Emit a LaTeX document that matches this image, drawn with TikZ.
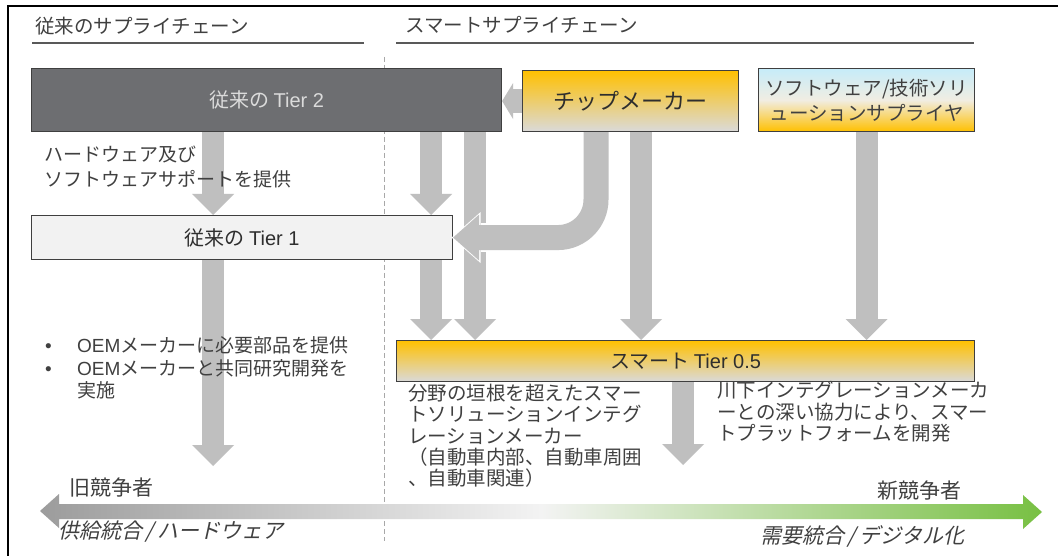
\documentclass[tikz,border=0pt]{standalone}
\usepackage{fontspec}
\setmainfont{Noto Sans CJK JP}
\newfontfamily\lat{Liberation Sans}
\newfontfamily\jpit[FakeSlant=0.22]{Noto Sans CJK JP}
\newcommand\latn[1]{{\lat #1}}
\usetikzlibrary{arrows.meta,calc}
\definecolor{txtc}{HTML}{404040}
\definecolor{txtdark}{HTML}{2E2E2E}
\definecolor{arr}{HTML}{BFBFBF}
\definecolor{tiertwo}{HTML}{6D6E71}
\definecolor{tierone}{HTML}{F2F2F2}
\definecolor{boxline}{HTML}{3F3F3F}
\definecolor{orng}{HTML}{FFC000}
\definecolor{lgray}{HTML}{DADADA}
\definecolor{lcyan}{HTML}{C6ECF9}
\definecolor{cream}{HTML}{F1EDE2}
\definecolor{grn}{HTML}{78C043}
\definecolor{dgray}{HTML}{9C9C9C}
\definecolor{barmid}{HTML}{F3F3F3}
\definecolor{dashc}{HTML}{A8A8A8}
\definecolor{ulc}{HTML}{595959}
\begin{document}
\begin{tikzpicture}[x=1pt,y=-1pt,
  txt/.style={inner sep=0pt, text=txtc, align=left, anchor=north west},
  box/.style={draw=boxline, line width=1.1pt, inner sep=0pt, anchor=north west},
  blk/.style={draw=arr, line width=22pt, -{Triangle[width=42pt,length=21pt,line width=0pt]}},
  uline/.style={draw=ulc, line width=1.2pt},
]
\useasboundingbox (0,0) rectangle (1058,556);
\fill[white] (0,0) rectangle (1058,556);
% frame
\draw[line width=1.5pt] (8,562) -- (8,6) -- (1064,6);
% dashed divider
\draw[draw=dashc, line width=0.8pt, dash pattern=on 5pt off 3pt] (384,57) -- (384,541);

% headers
\node[txt, font=\fontsize{19.5}{24}\selectfont] (h1) at (35,16.5) {従来のサプライチェーン};
\node[txt, font=\fontsize{19.5}{24}\selectfont] (h2) at (405,16.5) {スマートサプライチェーン};
\draw[uline] (32,43) -- (364,43);
\draw[uline] (396,43) -- (974,43);

% boxes
\node[box, fill=tiertwo, minimum width=470pt, minimum height=63pt, text=white!86!black,
      font=\fontsize{20}{24}\selectfont] (t2) at (31,68) {従来の \latn{Tier 2}};
\node[box, top color=orng, bottom color=lgray, minimum width=216pt, minimum height=61pt,
      text=txtdark, font=\fontsize{22}{26}\selectfont] (chip) at (522,70) {チップメーカー};
\node[box, top color=lcyan, bottom color=orng, middle color=cream, minimum width=216pt,
      minimum height=63pt, align=center, text=txtc, font=\fontsize{19.5}{25}\selectfont] (sw) at (758,68)
      {ソフトウェア/技術ソリ\\ューションサプライヤ};
\node[box, fill=tierone, minimum width=421pt, minimum height=44pt, text=txtdark,
      font=\fontsize{20}{24}\selectfont] (t1) at (31,215) {従来の \latn{Tier 1}};
\node[box, top color=orng, bottom color=lgray, minimum width=578pt, minimum height=41pt,
      text=txtdark, font=\fontsize{20}{24}\selectfont] (t05) at (396,340) {スマート \latn{Tier 0.5}};

% column coordinates
\coordinate (cA) at (213,0);
\coordinate (cC) at (431,0);
\coordinate (cE) at (475,0);
\coordinate (cF) at (596,0);
\coordinate (cG) at (641,0);
\coordinate (bEnd) at (213,466);
\coordinate (iEnd) at (683,465);

% block arrows
\draw[blk] (t2.south -| cA) -- (t1.north -| cA);
\draw[blk] (t1.south -| cA) -- (bEnd);
\draw[blk] (t2.south -| cC) -- (t1.north -| cC);
\draw[blk] (t1.south -| cC) -- (t05.north -| cC);
\draw[blk] (t2.south -| cE) -- (t05.north -| cE);
\draw[blk] (chip.south -| cG) -- (t05.north -| cG);
\draw[blk] (sw.south) -- (sw.south |- t05.north);
\draw[blk] (t05.south -| iEnd) -- (iEnd);
\draw[blk, line width=24pt, -{Triangle[width=36pt,length=11pt,line width=0pt]}] (chip.west) -- (chip.west -| t2.east);
% curved arrow chip -> tier 1
\draw[white, line width=29pt, -{Triangle[width=51pt,length=29pt,line width=0pt]}]
  ($(t1.east)+(45,0)$) -- ($(t1.east)+(-1.5,0)$);
\draw[blk, line width=25pt, rounded corners=38pt, -{Triangle[width=46pt,length=26pt,line width=0pt]}]
  (chip.south -| cF) |- (t1.east);

% bottom scale arrow
\shade[left color=dgray, right color=grn, middle color=barmid]
  (40,511) -- (59,494) -- (59,504) -- (1023,504) -- (1023,495) -- (1042,512)
  -- (1023,529) -- (1023,519) -- (59,519) -- (59,528) -- cycle;

% texts
\node[txt, font=\fontsize{19}{25}\selectfont] (hw) at (44,146) {ハードウェア及び\\ソフトウェアサポートを提供};
\node[txt, font=\fontsize{19}{21.5}\selectfont] (oem) at (45,336.5) {%
  \begin{tabular}{@{}p{32pt}@{}l@{}}
  \latn{•} & \latn{OEM}メーカーに必要部品を提供\\
  \latn{•} & \latn{OEM}メーカーと共同研究開発を\\
           & 実施
  \end{tabular}};
\node[txt, font=\fontsize{19.5}{21.3}\selectfont] (smartint) at (408,384) {分野の垣根を超えたスマー\\トソリューションインテグ\\レーションメーカー\\（自動車内部、自動車周囲\\、自動車関連）};
\node[txt, font=\fontsize{19.5}{21.5}\selectfont] (down) at (717,381) {川下インテグレーションメーカ\\ーとの深い協力により、スマー\\トプラットフォームを開発};
\node[txt, font=\fontsize{21}{24}\selectfont] (old) at (69,477.5) {旧競争者};
\node[txt, font=\fontsize{21}{24}\selectfont] (new) at (877,480.5) {新競争者};
\node[txt, font=\fontsize{21}{24}\jpit] (supply) at (58,521) {供給統合\,/\,ハードウェア};
\node[txt, font=\fontsize{21}{24}\jpit] (demand) at (760,525) {需要統合\,/\,デジタル化};
\end{tikzpicture}
\end{document}
